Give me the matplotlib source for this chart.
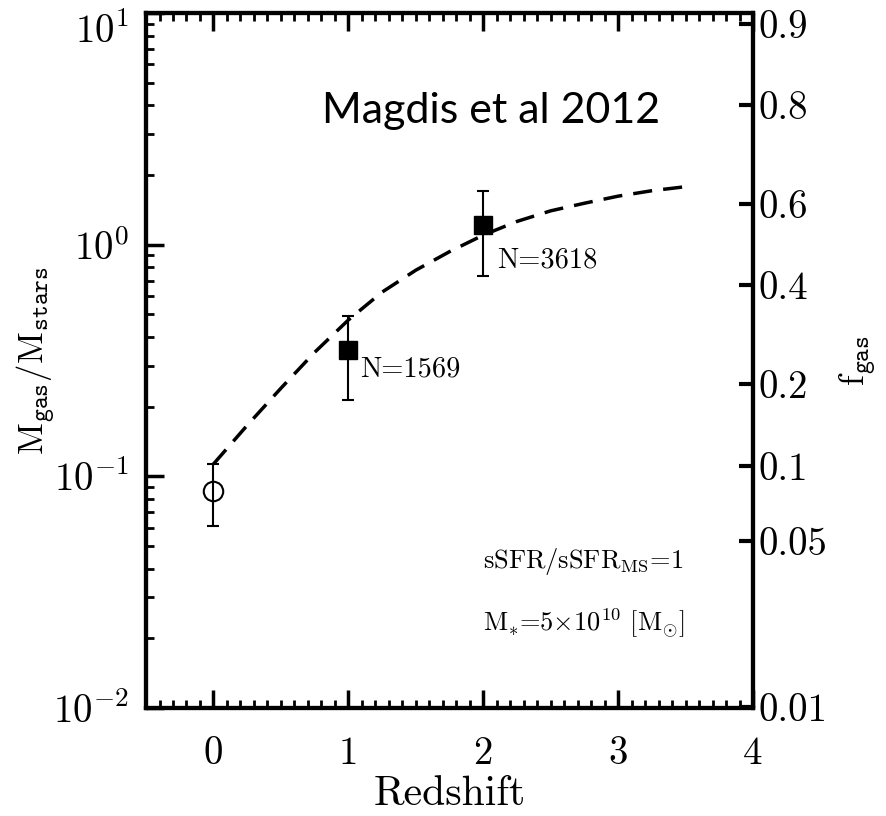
import numpy as np
import matplotlib
matplotlib.use("Agg")
import matplotlib.pyplot as plt
from matplotlib.ticker import MultipleLocator, LogLocator, NullFormatter, FixedLocator, FixedFormatter

plt.rcParams['font.family'] = ['cmr10', 'DejaVu Serif']
plt.rcParams['mathtext.fontset'] = 'cm'
plt.rcParams['axes.unicode_minus'] = False

# data points (ratio Mgas/Mstars)
z_local = [0.0]
ratio_local = [0.0865]
err_local_lo = [0.0865 - 0.061]
err_local_hi = [0.113 - 0.0865]

z_stack = [1.0, 2.0]
ratio_stack = [0.352, 1.22]
err_stack_lo = [0.352 - 0.213, 1.22 - 0.73]
err_stack_hi = [0.494 - 0.352, 1.70 - 1.22]
n_labels = ["N=1569", "N=3618"]
n_label_pos = [(1.09, 0.27), (2.10, 0.794)]

# dashed model curve
z_curve = [0.0, 0.25, 0.5, 0.75, 1.0, 1.25, 1.5, 1.75, 2.0, 2.25, 2.5, 2.75, 3.0, 3.25, 3.5]
ratio_curve = [0.113, 0.166, 0.24, 0.343, 0.473, 0.624, 0.776, 0.933, 1.10, 1.26, 1.40, 1.51, 1.62, 1.71, 1.78]

# right axis gas fraction ticks
fgas_ticks = [0.9, 0.8, 0.6, 0.4, 0.2, 0.1, 0.05, 0.01]
fgas_labels = ["0.9", "0.8", "0.6", "0.4", "0.2", "0.1", "0.05", "0.01"]

fig = plt.figure(figsize=(8.86, 8.16), dpi=100)
ax = fig.add_axes([0.1648, 0.1324, 0.6851, 0.8516])

ax.plot(z_curve, ratio_curve, color='black', lw=2.5, ls=(0, (5.5, 3.2)))
ax.errorbar(z_local, ratio_local, yerr=[err_local_lo, err_local_hi], fmt='o',
            mfc='none', mec='black', ms=14, mew=1.5, ecolor='black',
            elinewidth=1.5, capsize=4, capthick=1.5)
ax.errorbar(z_stack, ratio_stack, yerr=[err_stack_lo, err_stack_hi], fmt='s',
            mfc='black', mec='black', ms=13, ecolor='black',
            elinewidth=1.5, capsize=4, capthick=1.5)
for lab, (xx, yy) in zip(n_labels, n_label_pos):
    ax.text(xx, yy, lab, fontsize=20.5, ha='left', va='baseline')

ax.text(0.807, 3.36, "Magdis et al 2012", fontsize=31, family='Lato',
        ha='left', va='baseline')
ax.text(2.0, 0.0404, r"sSFR/sSFR$_{\rm MS}$=1", fontsize=19, ha='left', va='baseline')
ax.text(2.0, 0.0214, r"M$_{*}$=5$\times$10$^{10}$ [M$_{\odot}$]", fontsize=19,
        ha='left', va='baseline')

ax.set_yscale('log')
ax.set_xlim(-0.5, 4)
ax.set_ylim(1e-2, 1e1)
ax.xaxis.set_major_locator(MultipleLocator(1))
ax.xaxis.set_minor_locator(MultipleLocator(0.1))
ax.yaxis.set_major_locator(FixedLocator([1e-2, 1e-1, 1e0, 1e1]))
ax.yaxis.set_minor_locator(LogLocator(base=10, subs=np.arange(2, 10)))
ax.yaxis.set_minor_formatter(NullFormatter())

ax.tick_params(which='both', direction='in', top=True, right=False, labelsize=28)
ax.tick_params(which='major', length=13, width=2.5, pad=12)
ax.tick_params(axis='x', which='major', pad=20)
ax.tick_params(which='minor', length=6, width=2)
for s in ax.spines.values():
    s.set_linewidth(3)

# top label sits below its tick so it stays inside the figure
ax.yaxis.get_major_ticks()[-1].label1.set_va('top')

ax.set_xlabel("Redshift", fontsize=30, labelpad=3)
ax.set_ylabel(r"M$_{\mathtt{gas}}$/M$_{\mathtt{stars}}$", fontsize=25)
ax.yaxis.set_label_coords(-0.145, 0.5)

ax2 = ax.twinx()
ax2.set_yscale('log')
ax2.set_ylim(ax.get_ylim())
ax2.yaxis.set_major_locator(FixedLocator([f / (1 - f) for f in fgas_ticks]))
ax2.yaxis.set_major_formatter(FixedFormatter(fgas_labels))
ax2.yaxis.set_minor_locator(FixedLocator([]))
ax2.tick_params(which='major', direction='in', length=10, width=3, labelsize=28, pad=4)
for s in ax2.spines.values():
    s.set_linewidth(3)
ax2.set_ylabel(r"f$_{\mathtt{gas}}$", fontsize=25)
ax2.yaxis.set_label_coords(1.14, 0.5)

fig.savefig("out.png", dpi=100)
